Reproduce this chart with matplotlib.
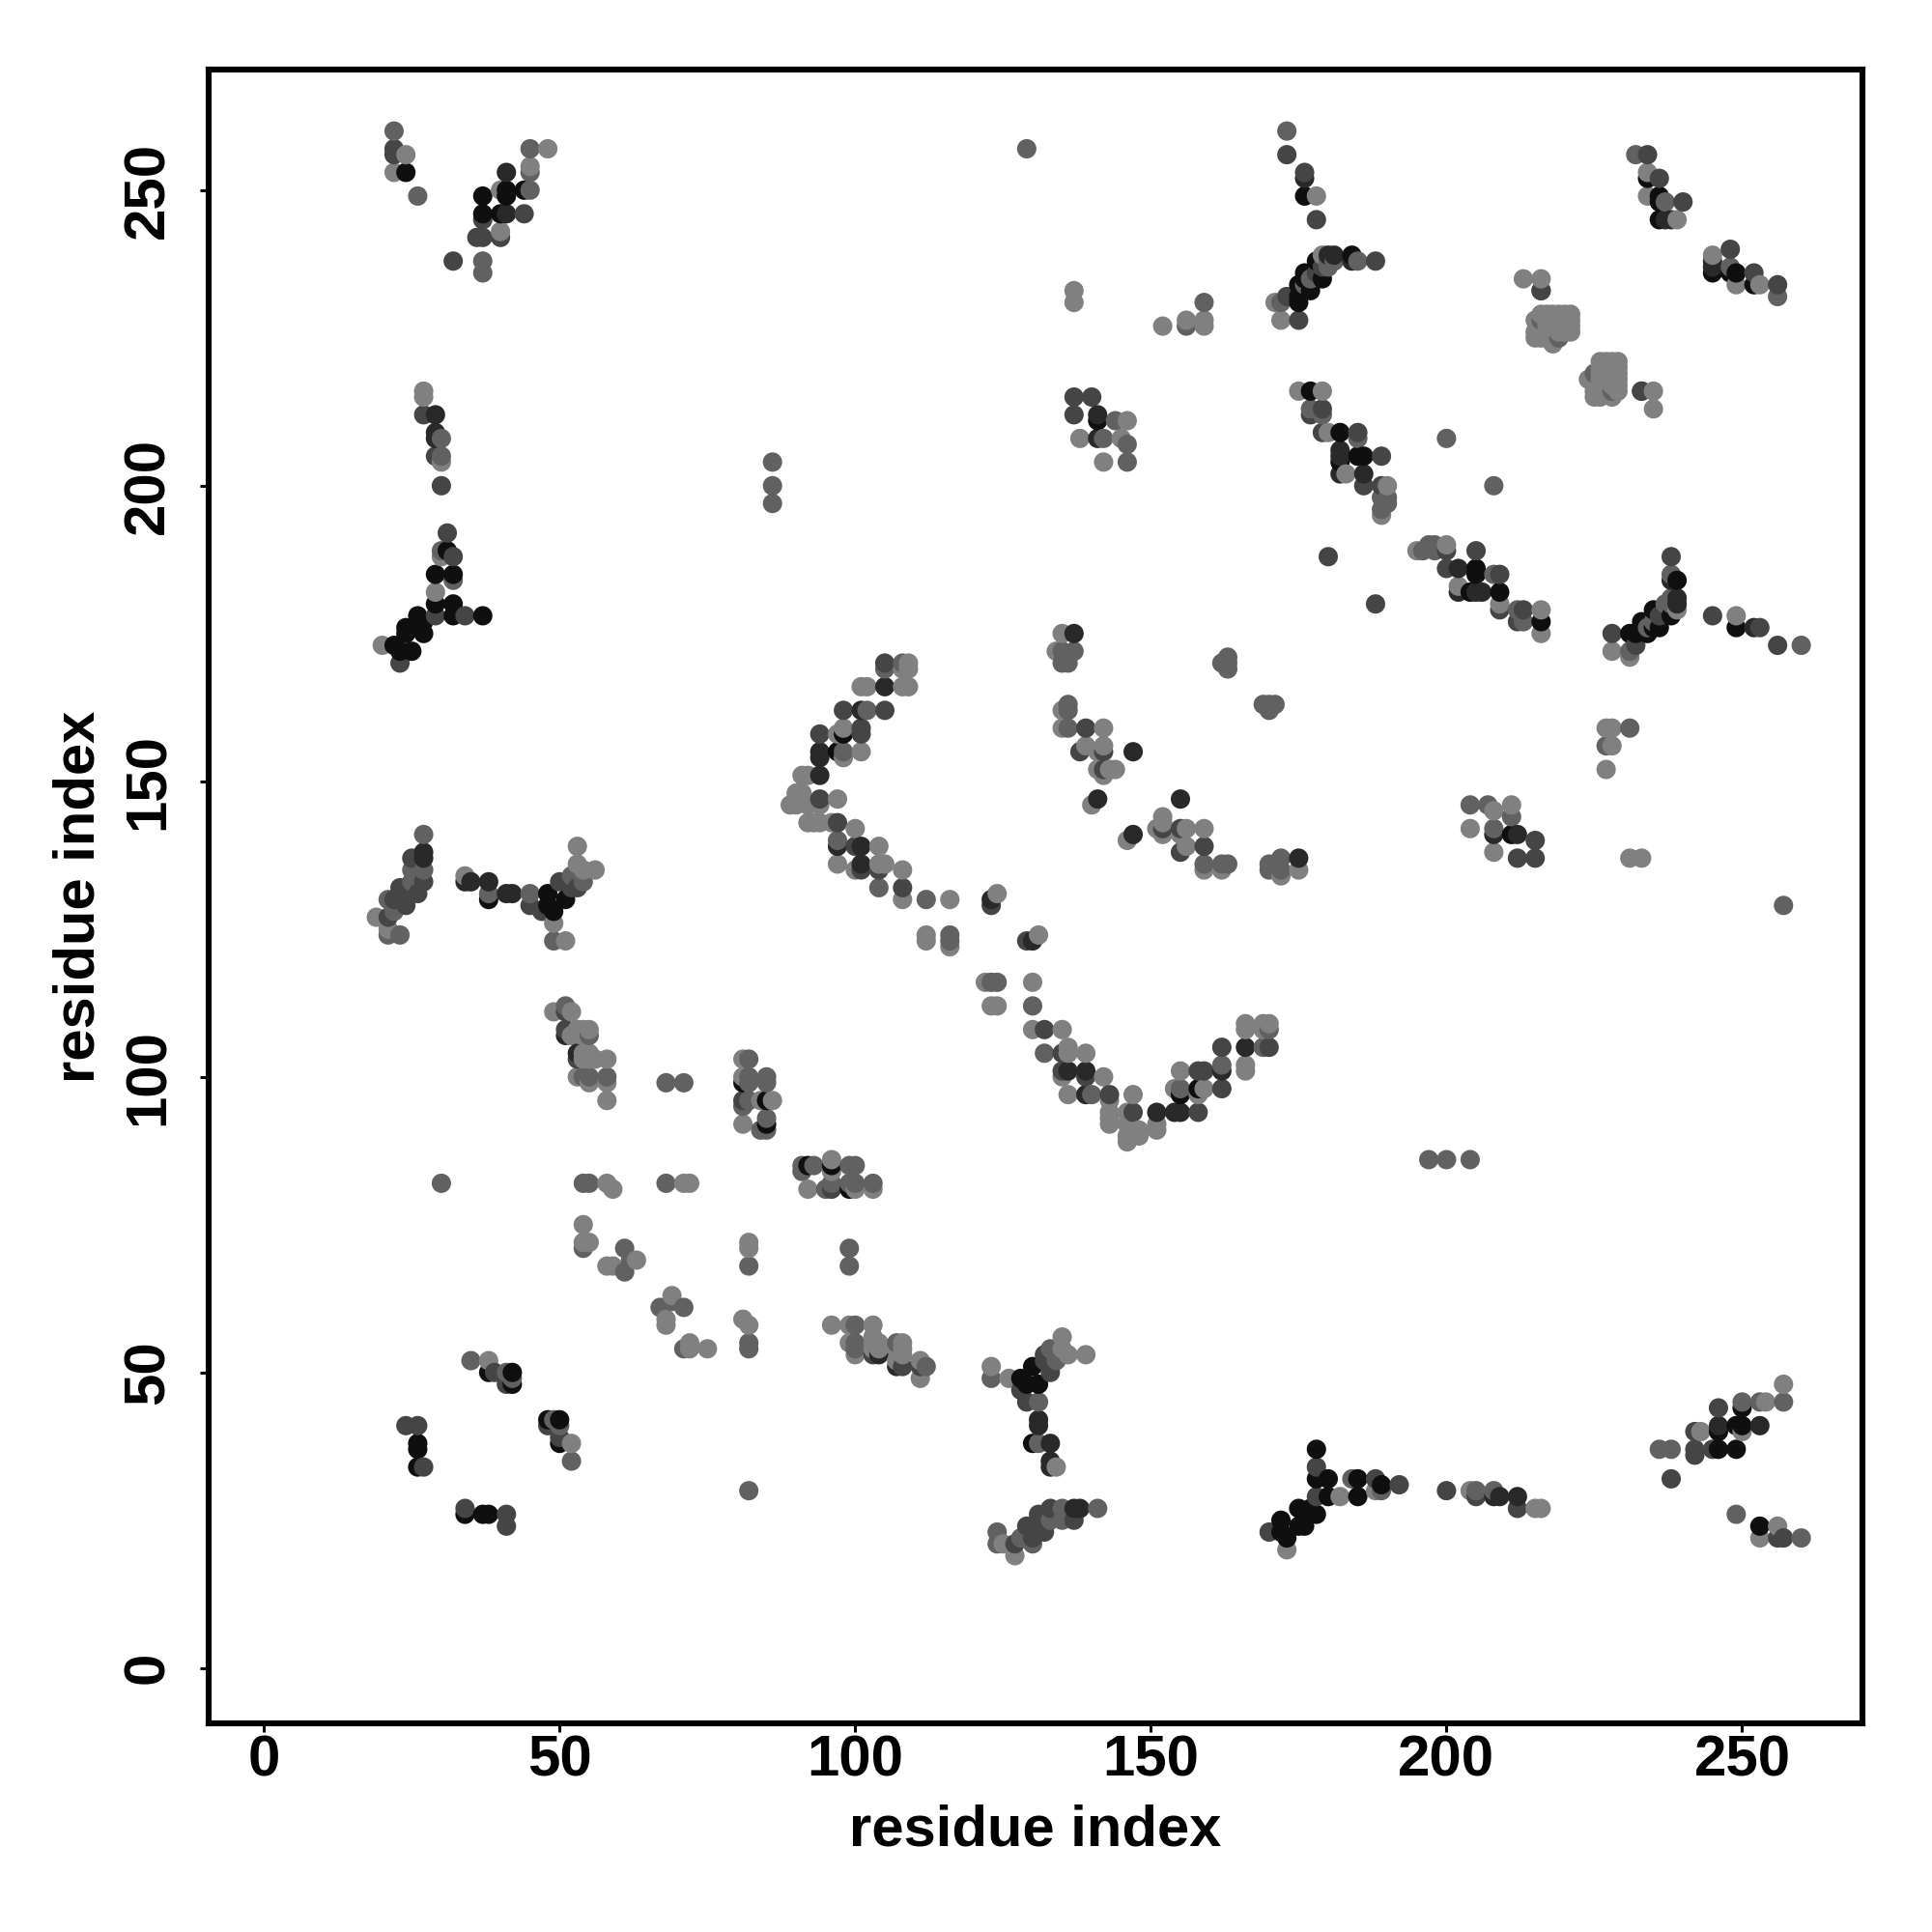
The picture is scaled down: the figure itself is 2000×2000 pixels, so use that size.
"""Residue contact map - symmetric dot plot, contacts shaded by strength."""
import matplotlib
matplotlib.use('Agg')
import matplotlib.pyplot as plt
import numpy as np

plt.rcParams['font.family'] = ['Liberation Sans', 'DejaVu Sans']

# Contacts above the diagonal as (i, j), i < j. The map is symmetric, the other half is mirrored below.
contacts_light = [
    (24, 256), (22, 253), (48, 257), (45, 254), (40, 250), (40, 243),
    (27, 216), (27, 215), (30, 204), (30, 188), (29, 182), (20, 173),
    (19, 127), (21, 125), (34, 134), (49, 126), (51, 123), (53, 139), (53, 136), (54, 135), (56, 135),
    (49, 111), (52, 111), (52, 107), (53, 108), (54, 108), (54, 107), (55, 108), (54, 104), (55, 104),
    (55, 103), (54, 103), (56, 103), (58, 103),
    (53, 100), (55, 99), (58, 99), (58, 96),
    (81, 103), (81, 100), (86, 96), (84, 96), (81, 92),
    (58, 82), (59, 81), (71, 82), (72, 82), (54, 75), (54, 72), (55, 72), (58, 68), (59, 68), (63, 69),
    (38, 52),
    (109, 170), (109, 169), (108, 169), (101, 166), (102, 166), (108, 166), (109, 166),
    (97, 158), (98, 159), (98, 154), (101, 155), (91, 151), (92, 151),
    (90, 148), (91, 148), (89, 146), (90, 146), (91, 147), (92, 146), (94, 146), (97, 147),
    (92, 143), (93, 143), (94, 143), (96, 143), (100, 142),
    (97, 136), (100, 135), (104, 139), (104, 136), (105, 136), (108, 135), (108, 130),
    (116, 130), (124, 131), (112, 124), (112, 123), (116, 122),
    (135, 175), (134, 172), (135, 162), (135, 159), (142, 159), (139, 156), (142, 156), (141, 155),
    (141, 152), (142, 151), (143, 152), (144, 152), (140, 146),
    (145, 208), (146, 211), (142, 204), (138, 208),
    (159, 227), (159, 228), (156, 228), (152, 227), (137, 231), (137, 233),
    (173, 232), (171, 231), (172, 228), (179, 239), (179, 216), (175, 216), (183, 202), (180, 209),
    (190, 200), (189, 195), (213, 235), (216, 235), (215, 228), (216, 229), (218, 229), (220, 229), (221, 229),
    (217, 229), (219, 229), (221, 228), (219, 228), (217, 228), (218, 228), (220, 228),
    (216, 227), (217, 227), (219, 227), (220, 227), (221, 227), (215, 226), (216, 226), (218, 226),
    (219, 226), (221, 226), (215, 225), (216, 225), (217, 225), (218, 225), (218, 224), (220, 226),
    (234, 253), (234, 249), (239, 245), (178, 249),
]
contacts_mid = [
    (22, 260), (26, 249), (45, 257), (45, 253), (45, 250), (37, 238), (37, 236),
    (30, 208), (30, 205), (30, 189), (32, 184),
    (27, 141), (27, 135), (25, 135), (25, 133), (21, 130), (22, 128), (23, 124), (21, 124),
    (38, 131), (45, 131), (49, 123), (54, 133), (52, 134),
    (51, 112), (55, 107), (54, 100), (55, 100), (58, 100),
    (68, 99), (71, 99), (82, 103), (82, 100), (82, 99), (85, 100), (85, 99), (81, 95), (82, 96),
    (85, 93), (84, 91), (85, 91), (54, 82), (55, 82), (68, 82), (54, 71), (61, 71), (61, 67), (62, 69),
    (30, 82), (35, 52), (41, 50), (42, 49),
    (86, 204), (86, 200), (86, 197), (129, 257),
    (105, 169), (108, 170), (102, 162), (98, 155), (97, 140), (104, 132), (112, 130),
    (116, 124), (116, 123),
    (135, 172), (137, 172), (135, 170), (136, 170), (136, 163), (136, 162), (136, 159),
    (146, 204), (146, 207), (144, 211), (142, 208), (159, 231), (156, 227),
    (162, 170), (163, 171), (163, 170), (163, 169),
    (173, 260), (185, 238), (180, 238), (181, 238), (180, 237), (177, 235), (176, 234), (172, 231),
    (177, 213), (179, 212), (185, 208), (190, 198), (189, 198), (190, 197), (189, 196),
    (200, 208), (216, 228), (219, 225), (232, 256), (237, 248),
]
contacts_dark = [
    (22, 257), (22, 256), (44, 246), (37, 245), (36, 242), (37, 242), (40, 242), (32, 238),
    (27, 212), (29, 205), (30, 200), (31, 192), (32, 188), (29, 178), (34, 178), (23, 170),
    (25, 137), (27, 133), (26, 131), (24, 131), (23, 132), (24, 129), (22, 130), (21, 127),
    (45, 129), (47, 128), (50, 133), (52, 132), (53, 132),
    (51, 111), (51, 108), (53, 103), (81, 96), (39, 50), (41, 48), (24, 41), (26, 41), (27, 34),
    (105, 170), (98, 162), (105, 162), (94, 158), (101, 159), (101, 158), (94, 147), (97, 143),
    (100, 139), (101, 135), (104, 135), (108, 132), (123, 129),
    (139, 159), (138, 155), (142, 155), (142, 152),
    (140, 215), (137, 212), (137, 215),
    (173, 256), (176, 253), (178, 245), (188, 238), (178, 236), (179, 237), (173, 232), (175, 228),
    (179, 213), (177, 212), (179, 209), (185, 209), (189, 205), (186, 200), (189, 200), (180, 188),
    (216, 233), (233, 216), (234, 256), (236, 252), (240, 248),
]
contacts_strong = [
    (27, 138), (27, 137), (29, 212), (29, 209), (29, 208), (41, 253), (41, 246),
    (34, 133), (35, 133), (38, 133), (41, 131), (42, 131), (53, 104), (51, 107),
    (137, 175), (147, 155), (141, 147), (105, 166), (101, 162), (94, 155), (94, 154), (94, 151),
    (97, 139), (101, 139), (101, 136), (123, 130), (141, 212), (141, 208),
    (176, 252), (184, 238), (181, 239), (180, 239), (182, 206), (182, 205), (182, 202), (186, 202),
    (237, 245), (238, 245),
]
contacts_black = [
    (24, 253), (41, 250), (41, 249), (44, 250), (37, 249), (37, 246), (40, 246),
    (31, 189), (29, 185), (32, 185), (29, 180), (32, 180), (32, 178), (37, 178), (26, 178), (27, 177),
    (24, 176), (26, 176), (27, 175), (24, 175), (22, 173), (23, 172), (25, 172),
    (38, 130), (48, 131), (48, 129), (49, 128), (51, 130),
    (81, 99), (85, 96), (85, 92), (38, 50), (42, 50), (42, 48),
    (26, 38), (26, 37), (26, 34),
    (98, 158), (97, 155), (141, 211),
    (176, 249), (184, 239), (178, 238), (176, 236), (179, 235), (176, 235), (175, 234), (177, 233),
    (175, 232), (175, 231), (177, 216), (182, 209), (182, 204), (185, 205), (186, 205),
    (234, 252), (236, 249), (236, 248), (236, 245),
]

shade_levels = [
    (contacts_light, 0.50),
    (contacts_mid, 0.38),
    (contacts_dark, 0.27),
    (contacts_strong, 0.16),
    (contacts_black, 0.06),
]

xs, ys, shades = [], [], []
for contacts, shade in shade_levels:
    for i, j in contacts:
        xs += [i, j]
        ys += [j, i]
        shades += [shade, shade]
xs, ys, shades = np.array(xs), np.array(ys), np.array(shades)

# later residues are drawn over earlier ones
order = np.lexsort((ys, xs))

fig = plt.figure(figsize=(10, 10), dpi=200)
ax = fig.add_axes([216 / 2000, 1 - 1784 / 2000, (1928.3 - 216) / 2000, (1784 - 72) / 2000])

ax.scatter(xs[order], ys[order], c=[str(s) for s in shades[order]], s=52, alpha=1.0,
           linewidths=0, clip_on=True)

ax.set_xlim(-9.36, 270.4)
ax.set_ylim(-9.36, 270.4)
ax.set_xticks(range(0, 251, 50))
ax.set_yticks(range(0, 251, 50))
ax.tick_params(axis='x', length=3.2, width=1.1, pad=0.8, labelsize=21.6)
ax.tick_params(axis='y', length=3.2, width=1.1, pad=9.2, labelsize=21.6)
for lab in ax.get_xticklabels():
    lab.set_fontweight('bold')
for lab in ax.get_yticklabels():
    lab.set_fontweight('bold')
    lab.set_rotation(90)
    lab.set_va('center')

for side in ax.spines.values():
    side.set_linewidth(2.2)

fig.text((216 + 1928.3) / 2 / 2000, 1 - 1895 / 2000, 'residue index', fontsize=21.5, fontweight='bold',
         ha='center', va='center')
fig.text(82 / 2000, 1 - 928 / 2000, 'residue index', fontsize=21.5, fontweight='bold',
         ha='center', va='center', rotation=90)

fig.savefig('out.png', dpi=200, facecolor='white')
plt.close(fig)
